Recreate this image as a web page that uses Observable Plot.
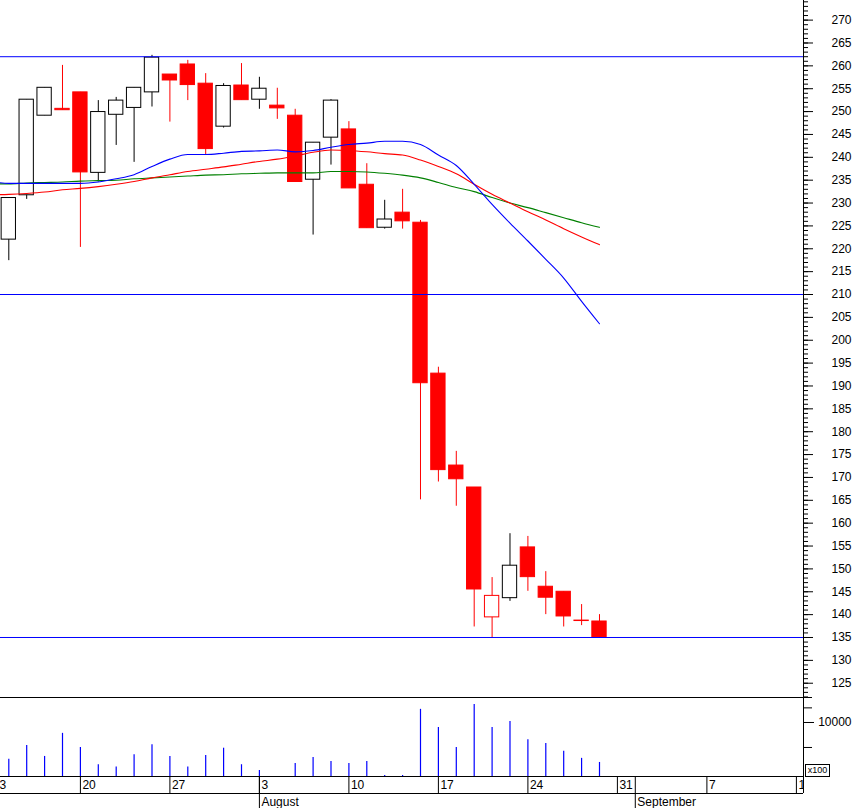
<!DOCTYPE html>
<html><head><meta charset="utf-8">
<script src="https://cdn.jsdelivr.net/npm/d3@7"></script>
<script src="https://cdn.jsdelivr.net/npm/@observablehq/plot@0.6"></script>
<style>
html,body{margin:0;padding:0;background:#fff;}
#chart{position:relative;width:855px;height:808px;overflow:hidden;font-family:"Liberation Sans",Arial,sans-serif;}
#chart svg{position:absolute;left:0;}
.unit{position:absolute;left:805px;top:764px;width:23px;height:11px;border:1px solid #000;font-size:9px;line-height:11px;text-align:center;font-family:"Liberation Sans",Arial,sans-serif;}
</style></head><body><div id="chart"><div class="unit">x100</div></div>
<script>
// ---- data ----
const dates = ["2009-07-14","2009-07-15","2009-07-16","2009-07-17",
  "2009-07-20","2009-07-21","2009-07-22","2009-07-23","2009-07-24",
  "2009-07-27","2009-07-28","2009-07-29","2009-07-30","2009-07-31",
  "2009-08-03","2009-08-04","2009-08-05","2009-08-06","2009-08-07",
  "2009-08-10","2009-08-11","2009-08-12","2009-08-13","2009-08-14",
  "2009-08-17","2009-08-18","2009-08-19","2009-08-20","2009-08-21",
  "2009-08-24","2009-08-25","2009-08-26","2009-08-27","2009-08-28"];
const open  = [222.0,231.7,249.1,250.6,254.2,236.6,249.3,250.8,254.2,258.1,260.3,256.1,246.7,255.7,252.6,251.3,249.1,235.1,244.3,246.1,234.0,224.6,227.9,225.7,192.7,172.6,167.8,139.4,143.6,154.7,146.1,145.0,138.7,138.5];
const high  = [231.1,252.6,255.2,260.1,254.2,252.4,253.1,255.2,262.3,258.1,261.2,258.3,256.1,260.5,257.5,255.1,250.5,243.2,252.6,247.8,238.6,230.6,233.0,226.2,194.1,175.7,167.8,148.1,157.7,157.1,149.4,145.0,142.2,140.0];
const low   = [217.4,230.8,249.1,250.3,220.3,234.6,242.6,238.9,251.0,247.7,252.4,240.6,246.4,252.5,250.5,248.3,234.6,223.0,238.3,233.2,224.5,224.3,224.3,165.1,169.0,163.7,137.3,134.8,142.9,145.1,140.0,137.3,137.6,134.8];
const close = [231.1,252.6,255.2,250.3,236.7,249.9,252.4,255.2,261.8,256.8,255.8,241.8,255.6,252.5,255.0,250.7,234.6,243.2,252.4,233.2,224.5,226.4,226.0,190.6,171.6,169.6,145.5,144.1,150.7,148.2,143.7,139.6,138.6,135.1];
// volume in hundreds
const volume = [3600,5300,3900,7400,5000,3100,2900,4100,5400,3900,2900,4000,4900,3100,2650,2100,3200,3800,3400,3200,3400,2300,2300,14400,8700,5000,16500,8700,10300,6200,5600,4500,3700,3300];

const maDates = ["2009-07-13", ...dates];
const maBlue  = [234.7,234.3,234.3,234.3,234.3,234.3,234.6,235.3,236.2,238.0,239.6,240.6,240.6,240.9,241.3,241.4,241.6,241.2,241.5,242.2,242.8,243.1,243.5,243.5,242.8,240.5,238.2,234.1,229.7,225.6,221.7,217.7,213.6,208.5,203.6];
const maRed   = [231.8,231.9,232.1,232.4,232.9,233.2,233.6,234.1,234.7,235.5,236.2,236.9,237.4,237.9,238.5,239.1,239.6,240.3,241.1,241.6,241.5,241.2,240.8,240.5,239.4,238.0,236.4,234.1,231.9,230.0,228.1,226.3,224.4,222.6,220.9];
const maGreen = [234.2,234.2,234.4,234.5,234.6,234.8,234.9,235.0,235.3,235.5,235.7,235.9,236.1,236.2,236.4,236.5,236.6,236.6,236.6,236.9,236.9,236.8,236.5,236.1,235.5,234.5,233.4,232.5,231.2,230.0,229.0,227.9,226.8,225.7,224.7];

const levels = [262, 210, 135];
const weekTicks = ["2009-07-13","2009-07-20","2009-07-27","2009-08-03","2009-08-10","2009-08-17","2009-08-24","2009-08-31","2009-09-07","2009-09-14"];
const monthTicks = ["2009-08-03","2009-09-01"];
const monthLabels = ["August","September"];

// ---- helpers ----
const origin = new Date("2009-07-13");
function tIndex(s) { // trading-day index (weekdays only)
  const days = d3.utcDay.count(origin, new Date(s));
  return Math.floor(days / 7) * 5 + Math.min(days % 7, 5);
}
const RED = "#ff0000", BLACK = "#000000", BLUE = "#0000ff", GREEN = "#008000";
const candles = dates.map((d, i) => ({
  x: tIndex(d), o: open[i], h: high[i], l: low[i], c: close[i],
  col: i > 0 && close[i] < close[i - 1] ? RED : BLACK
}));
const vols = dates.map((d, i) => ({x: tIndex(d), v: volume[i]}));
const maRows = maDates.map((d, i) => ({x: tIndex(d), blue: maBlue[i], red: maRed[i], green: maGreen[i]}));

const xDomain = [0.5363, 45.397];
const common = {
  width: 855, marginLeft: 0, marginRight: 52, marginTop: 0, marginBottom: 0,
  style: {fontFamily: "Liberation Sans, Arial, sans-serif", fontSize: "12px", color: "#000", background: "transparent"}
};
const HW = 0.4;

const price = Plot.plot({
  ...common, height: 697,
  x: {domain: xDomain, axis: null},
  y: {domain: [121.88, 274.29], axis: null},
  marks: [
    Plot.ruleX(candles, {x: "x", y1: "l", y2: "h", stroke: "col", clip: true}),
    Plot.rect(candles, {x1: d => d.x - HW, x2: d => d.x + HW,
      y1: d => Math.min(d.o, d.c), y2: d => Math.max(d.o, d.c),
      fill: d => d.c < d.o ? d.col : "#ffffff", stroke: "col", strokeWidth: 1, clip: true}),
    Plot.line(maRows, {x: "x", y: "green", stroke: GREEN, strokeWidth: 1.1, curve: "monotone-x", clip: true}),
    Plot.line(maRows, {x: "x", y: "red", stroke: RED, strokeWidth: 1.1, curve: "monotone-x", clip: true}),
    Plot.line(maRows, {x: "x", y: "blue", stroke: BLUE, strokeWidth: 1.1, curve: "monotone-x", clip: true}),
    Plot.ruleY(levels, {stroke: BLUE, strokeWidth: 1}),
    Plot.axisY({anchor: "right", label: null, ticks: d3.range(122, 275, 1), tickSize: 4, tickFormat: () => ""}),
    Plot.axisY({anchor: "right", label: null, ticks: d3.range(125, 275, 5), tickSize: 9, tickPadding: 39, textAnchor: "end", tickFormat: d3.format("d")}),
    Plot.ruleX([xDomain[1]])
  ]
});
price.style.top = "0px";

const vol = Plot.plot({
  ...common, height: 79,
  x: {domain: xDomain, axis: null},
  y: {type: "log", domain: [2236, 20000], axis: null},
  marks: [
    Plot.ruleX(vols, {x: "x", y1: 2236, y2: "v", stroke: BLUE, strokeWidth: 1.2, clip: true}),
    Plot.axisY({anchor: "right", label: null, ticks: [5000, 15000, 20000], tickSize: 8, tickFormat: () => ""}),
    Plot.axisY({anchor: "right", label: null, ticks: [10000], tickSize: 10, tickPadding: 38, textAnchor: "end", tickFormat: d3.format("d")}),
    Plot.ruleY([20000]),
    Plot.ruleX([xDomain[1]])
  ]
});
vol.style.top = "697px";

const axis = Plot.plot({
  ...common, height: 32,
  x: {domain: xDomain, axis: null},
  y: {domain: [0, 2], range: [0, 34], axis: null},
  marks: [
    Plot.ruleY([0, 1]),
    Plot.ruleX(weekTicks, {x: tIndex, y1: 0, y2: 1}),
    Plot.ruleX(monthTicks, {x: tIndex, y1: 0, y2: 2}),
    Plot.ruleX([xDomain[1]], {y1: 0, y2: 1}),
    Plot.text(weekTicks, {x: tIndex, y: 0.5, text: d => String(+d.slice(8)), textAnchor: "start", dx: 2, fill: "#000", clip: true}),
    Plot.text(monthTicks, {x: tIndex, y: 1.5, text: (d, i) => monthLabels[i], textAnchor: "start", dx: 2, fill: "#000"})
  ]
});
axis.style.top = "776px";

const root = document.getElementById("chart");
root.append(price, vol, axis);
</script>
</body></html>
